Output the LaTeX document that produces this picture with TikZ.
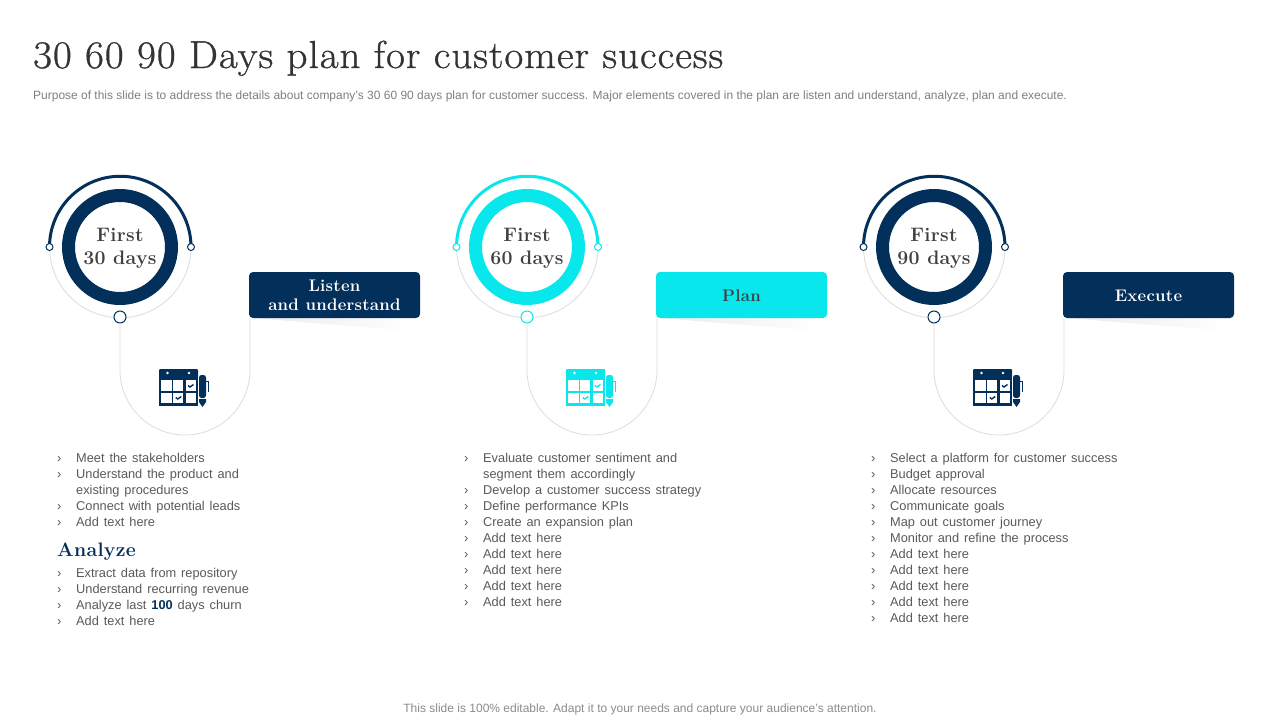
\documentclass[tikz,border=0pt]{standalone}
\usepackage{fontspec}
\usetikzlibrary{calc}
\newfontfamily\bodyfont{Liberation Sans}
\newfontfamily\plainbody{Liberation Sans}
\newfontfamily\headfont[LetterSpace=2.55,FakeBold=0.8,FakeStretch=1.05]{Latin Modern Roman}
\newfontfamily\headbase[LetterSpace=1.5]{Latin Modern Roman}
\newcommand{\headbold}{\headbase\bfseries}
\newcommand{\widewords}{\spaceskip=4.9pt\relax}
\definecolor{navy}{HTML}{03305A}
\definecolor{cyanx}{HTML}{08E8EC}
\definecolor{ink}{HTML}{404040}
\definecolor{titleink}{HTML}{333333}
\definecolor{bodytx}{HTML}{5A5A5A}
\definecolor{rulegrey}{HTML}{DCDCDC}
\tikzset{
  x=1pt,y=-1pt,
  thinrule/.style={draw=rulegrey,line width=0.8pt},
  smalldot/.style={circle,fill=white,line width=1pt,inner sep=0pt,minimum size=7pt},
  bigdot/.style={circle,fill=white,line width=1pt,inner sep=0pt,minimum size=12pt},
  listline/.style={anchor=base west,inner sep=0pt,text=bodytx,font=\bodyfont\fontsize{12.8}{14}\selectfont},
  tickmark/.style={anchor=base west,inner sep=0pt,text=bodytx,font=\plainbody\fontsize{13}{14}\selectfont},
  daylabel/.style={align=center,text=ink,inner sep=0pt,font=\headbold\fontsize{19.5}{23}\selectfont},
  boxfill/.style={rounded corners=4pt,minimum width=171pt,minimum height=46pt,inner sep=0pt},
  boxtext/.style={inner sep=0pt,align=center,font=\headbold\fontsize{16.8}{19}\selectfont},
}
% \stage{prefix}{offset}{colour}{days}{label colour}{box label}
\newcommand{\stage}[6]{%
  \begin{scope}[shift={(#2,0)}]
    \shade[left color=rulegrey!60,right color=white] (254,318) -- (412,318) -- (400,330) -- cycle;
    \node[circle,minimum size=103pt,inner sep=0pt,draw=#3,line width=13pt] (#1ring) at (120,247) {};
    \coordinate (#1l) at (49.5,247);
    \coordinate (#1r) at (191,247);
    \draw[thinrule] (#1l) arc[start angle=180,end angle=360,radius=70.75pt];
    \draw[draw=#3,line width=3pt] (#1l) arc[start angle=180,end angle=0,radius=70.75pt];
    \node[smalldot,draw=#3] (#1dl) at (#1l) {};
    \node[smalldot,draw=#3] (#1dr) at (#1r) {};
    \node[bigdot,draw=#3] (#1db) at (120,317) {};
    \node[boxfill,fill=#3] (#1box) at (334.5,295) {};
    \node[boxtext,text=#5] (#1boxt) at (334.5,295.7) {#6};
    \node[daylabel] (#1days) at (120,248.5) {First\\#4 days};
    \draw[thinrule] (#1db.south) -- (120,370) arc[start angle=180,end angle=360,radius=65pt] -- (250,318);
    % calendar icon
    \fill[#3,rounded corners=1pt] (159,369) rectangle (198,377.5);
    \fill[#3] (159,377) rectangle (198,406);
    \foreach \xa/\xb in {161.3/171.7,173.3/183.3,185.7/195.7}
      \foreach \ya/\yb in {380/391,393/403}
        \fill[white] (\xa,\ya) rectangle (\xb,\yb);
    \fill[white] (167.5,373) circle (1.3pt) (189,373) circle (1.3pt);
    \draw[#3,line width=1.4pt] (188,385.5) -- (190,387) -- (193.5,384.5);
    \draw[#3,line width=1.4pt] (175.8,397.5) -- (177.8,399) -- (181.3,396.5);
    \fill[#3,rounded corners=2.5pt] (199,380) -- (199,375) -- (206,375) -- (206,398) -- (199,398) -- cycle;
    \fill[#3] (199,399) -- (206,399) -- (206,402) -- (202.5,407) -- (199,402) -- cycle;
    \draw[#3,line width=0.8pt] (206,381) -- (208,381) -- (208,392);
  \end{scope}
}
\newcommand{\li}[3]{% offset, y, text
  \node[tickmark] at ({57+#1},#2) {›};
  \node[listline] at ({76+#1},#2) {\widewords #3};
}
\begin{document}
\begin{tikzpicture}
\useasboundingbox (0,0) rectangle (1280,720);
\fill[white] (0,0) rectangle (1280,720);
\node[anchor=base west,inner sep=0pt,text=titleink,font=\headfont\fontsize{39}{42}\selectfont] (title) at (33,68) {30 60 90 Days plan for customer success};
\node[anchor=base west,inner sep=0pt,text=black!50,font=\plainbody\fontsize{11.98}{14}\selectfont] (sub) at (33,99) {Purpose of this slide is to address the details about company’s 30 60 90 days plan for customer success. Major elements covered in the plan are listen and understand, analyze, plan and execute.};
\node[anchor=base,inner sep=0pt,text=black!45,font=\plainbody\fontsize{12}{14}\selectfont] (foot) at (640,712) {This slide is 100\% editable. Adapt it to your needs and capture your audience’s attention.};
\stage{a}{0}{navy}{30}{white}{Listen\\and understand}
\stage{b}{407}{cyanx}{60}{ink}{Plan}
\stage{c}{814}{navy}{90}{white}{Execute}
% column 1
\li{0}{462}{Meet the stakeholders}
\li{0}{478}{Understand the product and}
\node[listline] at (76,494) {\widewords existing procedures};
\li{0}{510}{Connect with potential leads}
\li{0}{526}{Add text here}
\node[anchor=base west,inner sep=0pt,text=navy,font=\headbold\fontsize{19.5}{22}\selectfont] (analyze) at (57,556) {Analyze};
\li{0}{577}{Extract data from repository}
\li{0}{593}{Understand recurring revenue}
\li{0}{609}{Analyze last \textbf{\textcolor{navy}{100}} days churn}
\li{0}{625}{Add text here}
% column 2
\li{407}{462}{Evaluate customer sentiment and}
\node[listline] at (483,478) {\widewords segment them accordingly};
\li{407}{494}{Develop a customer success strategy}
\li{407}{510}{Define performance KPIs}
\li{407}{526}{Create an expansion plan}
\li{407}{542}{Add text here}
\li{407}{558}{Add text here}
\li{407}{574}{Add text here}
\li{407}{590}{Add text here}
\li{407}{606}{Add text here}
% column 3
\li{814}{462}{Select a platform for customer success}
\li{814}{478}{Budget approval}
\li{814}{494}{Allocate resources}
\li{814}{510}{Communicate goals}
\li{814}{526}{Map out customer journey}
\li{814}{542}{Monitor and refine the process}
\li{814}{558}{Add text here}
\li{814}{574}{Add text here}
\li{814}{590}{Add text here}
\li{814}{606}{Add text here}
\li{814}{622}{Add text here}
\end{tikzpicture}
\end{document}
